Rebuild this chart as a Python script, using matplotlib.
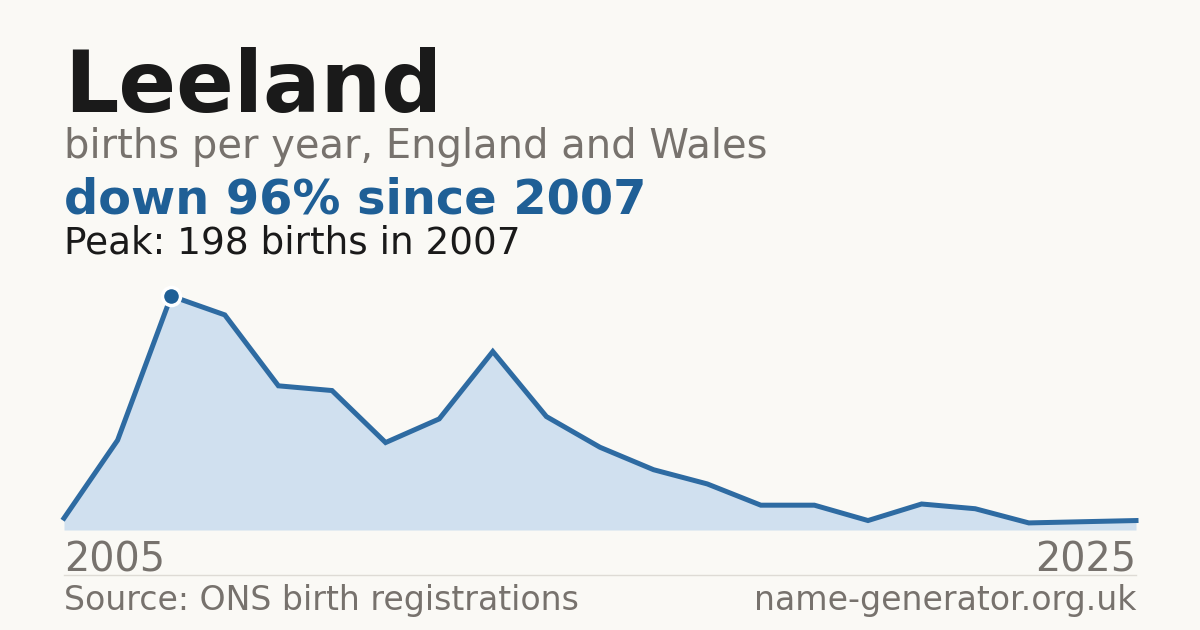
import matplotlib
matplotlib.use("Agg")
import matplotlib.pyplot as plt
from matplotlib.lines import Line2D

years = list(range(2005, 2026))
births = [10, 76, 198, 182, 122, 118, 74, 94, 151, 96, 70, 51, 39, 21, 21, 8, 22, 18, 6, 7, 8]
title = "Leeland"
subtitle = "births per year, England and Wales"
headline = "down 96% since 2007"
peak_text = "Peak: 198 births in 2007"
source_text = "Source: ONS birth registrations"
site_text = "name-generator.org.uk"
x_labels = ["2005", "2025"]

BG = "#faf9f5"
DARK = "#1a1a1a"
GREY = "#77726d"
BLUE = "#1f5f96"
LINE = "#2e6ba2"
FILL = "#d0e0ef"

W, H = 1200, 630
fig = plt.figure(figsize=(12, 6.3), dpi=100, facecolor=BG)
plt.rcParams['font.family'] = ['DejaVu Sans']

def fx(x):
    return x / W

def fy(y):
    return 1 - y / H

# chart area: x 64..1136, y 296 (peak)..530 (zero)
ax = fig.add_axes([fx(64), fy(530), (1136 - 64) / W, (530 - 296) / H])
ax.set_facecolor("none")
ax.fill_between(years, births, 0, color=FILL, lw=0)
ax.plot(years, births, color=LINE, lw=3.6, solid_joinstyle="miter", clip_on=False)
pk = births.index(max(births))
ax.plot([years[pk]], [births[pk]], marker="o", ms=13, color=BLUE, mec="white", mew=2.5,
        clip_on=False, zorder=5)
ax.set_xlim(years[0], years[-1])
ax.set_ylim(0, max(births))
ax.axis("off")

fig.text(fx(64), fy(112), title, fontsize=61.4, fontweight="bold", color=DARK, va="baseline")
fig.text(fx(64), fy(158), subtitle, fontsize=28.8, color=GREY, va="baseline")
fig.text(fx(64), fy(214), headline, fontsize=34.5, fontweight="bold", color=BLUE, va="baseline")
fig.text(fx(64), fy(253), peak_text, fontsize=26.9, color=DARK, va="baseline")

fig.text(fx(64), fy(571), x_labels[0], fontsize=28.6, color=GREY, va="baseline", ha="left")
fig.text(fx(1136), fy(571), x_labels[1], fontsize=28.6, color=GREY, va="baseline", ha="right")

fig.add_artist(Line2D([fx(64), fx(1136)], [fy(574.5), fy(574.5)], color="#dedbd5", lw=1))

fig.text(fx(64), fy(610), source_text, fontsize=23.9, color=GREY, va="baseline", ha="left")
fig.text(fx(1136), fy(610), site_text, fontsize=23.9, color=GREY, va="baseline", ha="right")

fig.savefig("out.png", dpi=100, facecolor=BG)
